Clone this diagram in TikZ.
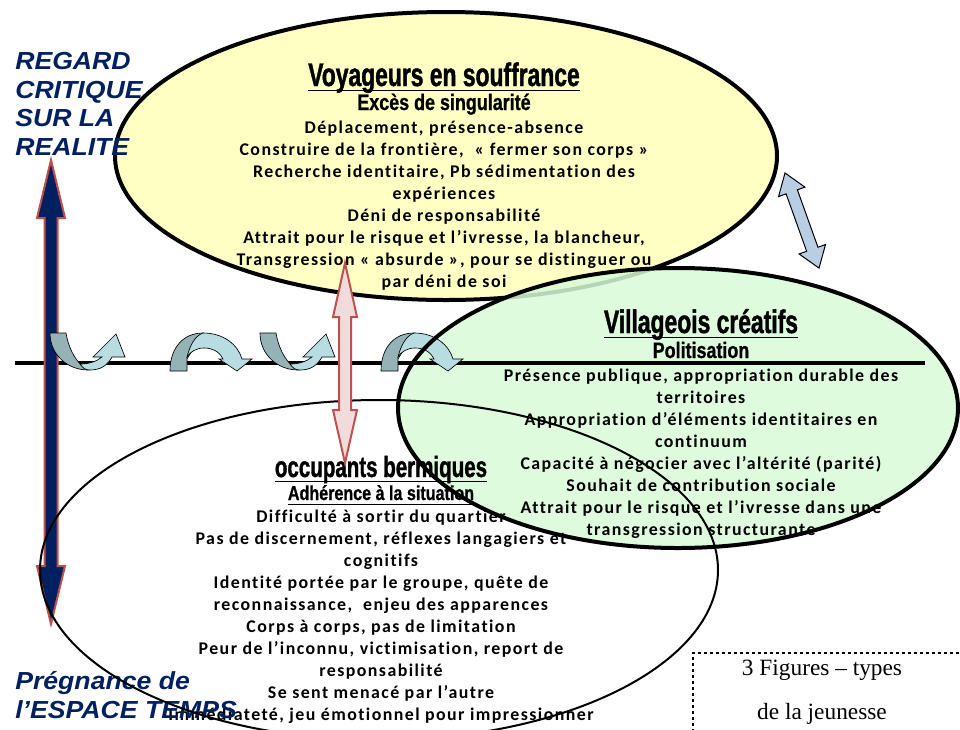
\documentclass[tikz,border=0pt]{standalone}
\usepackage{fontspec}
\setmainfont{Carlito}
\newfontfamily\bodyfont[LetterSpace=8, Ligatures=NoCommon]{Carlito}
\newfontfamily\headfont[FakeStretch=0.7, BoldFeatures={FakeBold=1.2}]{Liberation Sans}
\newfontfamily\subheadfont[FakeStretch=0.8, BoldFeatures={FakeBold=0.8}]{Liberation Sans}
\newfontfamily\labelfont[FakeStretch=1.08]{Liberation Sans}
\newfontfamily\notefont{Liberation Serif}

% text with a rule under it
\newcommand\ruled[1]{\setbox0=\hbox{#1}\leavevmode\rlap{\vrule width\wd0 height -2.8pt depth 3.9pt}\box0}

\definecolor{navy}{RGB}{0,32,96}
\definecolor{arrowred}{RGB}{192,80,77}
\definecolor{pinkfill}{RGB}{242,220,219}
\definecolor{yellowfill}{RGB}{255,255,196}
\definecolor{greenfill}{RGB}{216,250,216}
\definecolor{bluefill}{RGB}{185,205,229}
\definecolor{backteal}{RGB}{149,179,183}
\definecolor{frontteal}{RGB}{183,221,227}

\tikzset{
  bubble/.style={line width=3pt},
  bodytext/.style={font=\bodyfont\bfseries\fontsize{13.4}{16.5}\selectfont, align=center, inner sep=0pt},
  headtext/.style={font=\headfont\bfseries\fontsize{24.5}{26}\selectfont, inner sep=0pt},
  subtext/.style={font=\subheadfont\bfseries\fontsize{16.8}{19}\selectfont, inner sep=0pt},
  sidelabel/.style={font=\labelfont\bfseries\itshape\fontsize{18.5}{21.5}\selectfont, text=navy, align=left, inner sep=0pt},
  notetext/.style={font=\notefont\fontsize{17.5}{33.2}\selectfont, align=center, inner sep=0pt},
  bigarrow/.style={line width=1.5pt, draw=arrowred},
  archpart/.style={draw=black, line width=0.5pt},
}

% curved arrow dipping below its top edge and rising to a head
\newcommand\archup{%
  \filldraw[archpart, fill=backteal] (0,0) -- (16,0) .. controls (19,18) and (28,32) .. (38,37)
     .. controls (18,37) and (0,22) .. (0,0) -- cycle;
  \filldraw[archpart, fill=frontteal] (30,31) .. controls (33,35) and (35,37) .. (40,37)
     .. controls (50,37) and (57,33) .. (62,24) -- (75,24) -- (66,1) -- (43,24) -- (52,24)
     .. controls (46,29) and (38,31) .. (30,31) -- cycle;
}
% curved arrow arching above its bottom edge and coming down to a head
\newcommand\archdown{%
  \filldraw[archpart, fill=backteal] (0,0) .. controls (0,-24) and (14,-38) .. (33,-38)
     -- (17,-12) -- (17,0) -- cycle;
  \filldraw[archpart, fill=frontteal] (17,-14) .. controls (20,-26) and (25,-35) .. (33,-38)
     .. controls (54,-38) and (68,-26) .. (72,-12) -- (82,-12) -- (67,0) -- (49,-12) -- (53,-12)
     .. controls (49,-20) and (42,-23) .. (34,-23) .. controls (26,-23) and (20,-19) .. (17,-14) -- cycle;
}

\begin{document}
\begin{tikzpicture}[x=0.75pt,y=-0.75pt]
\useasboundingbox (0,0) rectangle (960,729);

% --- Voyageurs en souffrance
\filldraw[bubble, fill=yellowfill, draw=black] (446,156) ellipse [x radius=248.25pt, y radius=108pt];
\node[headtext, anchor=base] (voyTitle) at (444,86) {\ruled{Voyageurs en souffrance}};
\node[subtext, anchor=base] (voySub) at (444,110) {Excès de singularité};
\node[bodytext, anchor=north] (voyText) at (444,121) {%
  Déplacement, présence-absence\\
  Construire de la frontière,~ « fermer son corps »\\
  Recherche identitaire, Pb sédimentation des\\
  expériences\\
  Déni de responsabilité\\
  Attrait pour le risque et l’ivresse, la blancheur,\\
  Transgression « absurde », pour se distinguer ou\\
  par déni de soi};

% --- Villageois créatifs (fill)
\fill[greenfill, fill opacity=0.85] (678,408) ellipse [x radius=210pt, y radius=105pt];

% horizontal axis
\draw[line width=3pt] (15,363) coordinate (axisL) -- (925,363) coordinate (axisR);

% vertical axis arrow
\filldraw[bigarrow, fill=navy] (51,160) -- (65,218) -- (57.5,218) -- (57.5,566) -- (65,566) -- (51,624)
   -- (37,566) -- (44.5,566) -- (44.5,218) -- (37,218) -- cycle;

% curved arrows along the axis
\begin{scope}[shift={(50,333)}]\archup\end{scope}
\begin{scope}[shift={(170,371)}]\archdown\end{scope}
\begin{scope}[shift={(260,333)}]\archup\end{scope}
\begin{scope}[shift={(381,371)}]\archdown\end{scope}

% --- Villageois créatifs (outline and text)
\draw[bubble] (678,408) ellipse [x radius=210pt, y radius=105pt];
\node[headtext, anchor=base] (vilTitle) at (701,333) {\ruled{Villageois créatifs}};
\node[subtext, anchor=base] (vilSub) at (701,358) {Politisation};
\node[bodytext, anchor=north] (vilText) at (701,369) {%
  Présence publique, appropriation durable des\\
  territoires\\
  Appropriation d’éléments identitaires en\\
  continuum\\
  Capacité à négocier avec l’altérité (parité)\\
  Souhait de contribution sociale\\
  Attrait pour le risque et l’ivresse dans une\\
  transgression structurante};

% --- occupants bermiques (text)
\node[headtext, font=\headfont\bfseries\fontsize{22}{24}\selectfont, anchor=base] (occTitle) at (381,477) {\ruled{occupants bermiques}};
\node[subtext, font=\subheadfont\bfseries\fontsize{15.1}{17}\selectfont, anchor=base] (occSub) at (381,500) {\ruled{Adhérence à la situation}};
\node[bodytext, anchor=north] (occText) at (381,510) {%
  Difficulté à sortir du quartier\\
  Pas de discernement, réflexes langagiers et\\
  cognitifs\\
  Identité portée par le groupe, quête de\\
  reconnaissance,~ enjeu des apparences\\
  Corps à corps, pas de limitation\\
  Peur de l’inconnu, victimisation, report de\\
  responsabilité\\
  Se sent menacé par l’autre\\
  Immédiateté, jeu émotionnel pour impressionner};

% axis labels
\node[sidelabel, anchor=north west] (topLabel) at (15,52) {REGARD\\CRITIQUE\\SUR LA\\REALITE};
\node[sidelabel, anchor=north west] (bottomLabel) at (15,671) {Prégnance de\\l’ESPACE TEMPS};

% --- occupants bermiques (outline)
\draw[line width=1.5pt] (379,570) ellipse [x radius=254.25pt, y radius=127.5pt];

% link between the first two figures
\filldraw[bigarrow, fill=pinkfill] (345,263) -- (357,317) -- (351,317) -- (351,410) -- (357,410) -- (345,463)
   -- (333,410) -- (339,410) -- (339,317) -- (333,317) -- cycle;

% link between voyageurs and villageois
\begin{scope}[shift={(785,173)}, rotate=-70.3]
  \filldraw[fill=bluefill, draw=black, line width=0.75pt] (0,0) -- (20,14) -- (20,6) -- (81,6) -- (81,14)
     -- (101,0) -- (81,-14) -- (81,-6) -- (20,-6) -- (20,-14) -- cycle;
\end{scope}

% caption box
\draw[line width=2.2pt, dash pattern=on 2.2pt off 2.3pt] (965,653) -- (693,653) -- (693,735);
\node[notetext, anchor=north] (caption) at (822,660) {3 Figures – types\\de la jeunesse};
\end{tikzpicture}
\end{document}
